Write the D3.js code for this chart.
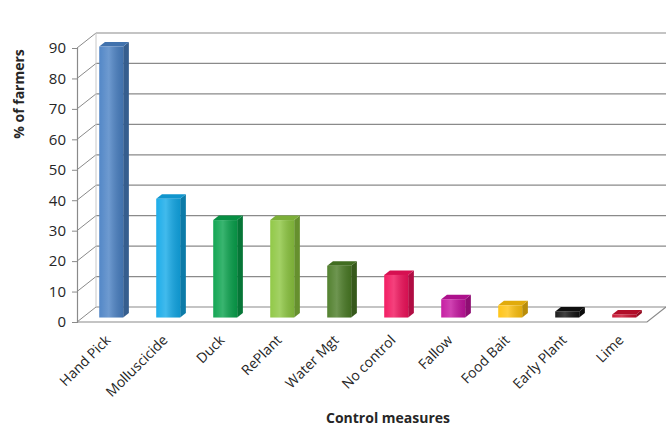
<!DOCTYPE html>
<html><head><meta charset="utf-8">
<script src="https://cdn.jsdelivr.net/npm/d3@7"></script>
<style>body{margin:0;background:#fff}svg{display:block}text{font-family:"Open Sans",sans-serif;fill:#262626}</style>
</head><body><svg id="c" width="666" height="429"></svg>
<script>
const categories = ["Hand Pick","Molluscicide","Duck","RePlant","Water Mgt","No control","Fallow","Food Bait","Early Plant","Lime"];
const values = [89, 39, 32, 32, 17, 14, 6, 4, 2, 1];
const colors = ["#4a81c4","#12a9e8","#08a24c","#8cc63f","#4a7b25","#f2125c","#c4139f","#ffc20e","#111111","#c8102e"];
const yTicks = [0,10,20,30,40,50,60,70,80,90];

const svg = d3.select("#c");
const X0 = 77, X1 = 647, YB = 322, YT = 48;
const D = [19, -15];
const x = d3.scaleBand().domain(categories).range([X0, X1]).paddingInner(0.58).paddingOuter(0.29);
const y = d3.scaleLinear().domain([0, 90]).range([YB, YT]);

const defs = svg.append("defs");
const g = defs.append("linearGradient").attr("id","shine").attr("x1","0").attr("x2","1").attr("y1","0").attr("y2","0");
g.append("stop").attr("offset","0").attr("stop-color","#fff").attr("stop-opacity",0.05);
g.append("stop").attr("offset","0.4").attr("stop-color","#fff").attr("stop-opacity",0.2);
g.append("stop").attr("offset","1").attr("stop-color","#000").attr("stop-opacity",0.12);

const grid = "#8a8a8a";
svg.append("g").selectAll("line").data(yTicks).join("line")
  .attr("x1", X0 + D[0]).attr("x2", X1 + D[0])
  .attr("y1", d => y(d) + D[1]).attr("y2", d => y(d) + D[1])
  .attr("stroke", grid).attr("stroke-width", 1.2);
svg.append("g").selectAll("line").data(yTicks).join("line")
  .attr("x1", X0).attr("x2", X0 + D[0])
  .attr("y1", d => y(d)).attr("y2", d => y(d) + D[1])
  .attr("stroke", grid).attr("stroke-width", 1);
svg.append("line").attr("x1", X0 + D[0]).attr("x2", X0 + D[0]).attr("y1", y(90) + D[1]).attr("y2", y(0) + D[1])
  .attr("stroke", "#c8c8c8").attr("stroke-width", 1);
svg.append("path").attr("d", `M${X0},${YB}L${X1},${YB}L${X1 + D[0]},${YB + D[1]}`)
  .attr("fill", "none").attr("stroke", grid).attr("stroke-width", 1.2);
const yAxis = d3.axisLeft(y).tickValues(yTicks).tickSize(5).tickPadding(6);
const ya = svg.append("g").attr("transform", `translate(${X0},0)`).call(yAxis);
ya.select(".domain").attr("stroke", grid).attr("stroke-width", 1.2);
ya.selectAll(".tick line").attr("stroke", grid);
ya.selectAll(".tick text").style("font-size", "15px").attr("fill", "#262626");

const F = 0.3, B = 0.3;
const fo = [D[0] * F, D[1] * F], bo = [D[0] * B, D[1] * B];
const bars = svg.append("g").selectAll("g").data(categories).join("g");
bars.each(function(c, i) {
  const gg = d3.select(this);
  const xl = x(c) + fo[0], xr = xl + x.bandwidth();
  const yt = y(values[i]) + fo[1], yb = y(0) + fo[1];
  const col = d3.color(colors[i]);
  gg.append("path").attr("d", `M${xr},${yb}L${xr},${yt}L${xr + bo[0]},${yt + bo[1]}L${xr + bo[0]},${yb + bo[1]}Z`)
    .attr("fill", col.darker(0.9));
  gg.append("path").attr("d", `M${xl},${yt}L${xr},${yt}L${xr + bo[0]},${yt + bo[1]}L${xl + bo[0]},${yt + bo[1]}Z`)
    .attr("fill", col.darker(0.35));
  gg.append("rect").attr("x", xl).attr("y", yt).attr("width", x.bandwidth()).attr("height", yb - yt).attr("fill", col);
  gg.append("rect").attr("x", xl).attr("y", yt).attr("width", x.bandwidth()).attr("height", yb - yt).attr("fill", "url(#shine)");
});

svg.append("g").selectAll("text").data(categories).join("text")
  .attr("transform", c => `translate(${x(c) + x.bandwidth() / 2 + 6},${YB + 19}) rotate(-45)`)
  .attr("text-anchor", "end").style("font-size", "14px").text(c => c);

svg.append("text").attr("x", 388).attr("y", 423).attr("text-anchor", "middle")
  .style("font-size", "14px").style("font-weight", "bold").text("Control measures");
svg.append("text").attr("transform", "translate(24,94) rotate(-90)").attr("text-anchor", "middle")
  .style("font-size", "14px").style("font-weight", "bold").text("% of farmers");
</script></body></html>
